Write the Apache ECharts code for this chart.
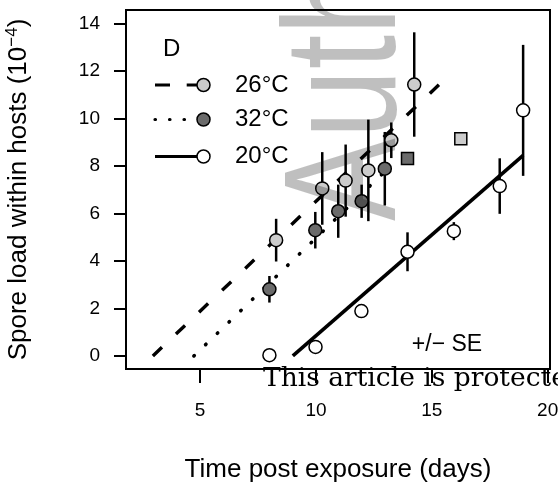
<!DOCTYPE html>
<html>
<head>
<meta charset="utf-8">
<script src="https://cdn.jsdelivr.net/npm/echarts@6/dist/echarts.min.js"></script>
<style>
    html, body { margin: 0; padding: 0; background: #fff; }
    #chart { width: 558px; height: 487px; }
</style>
</head>
<body>
<div id="chart"></div>
<script>
// 26°C (light grey)
let day26 = [8.28, 10.27, 11.28, 12.26, 13.25, 14.24]
let load26 = [4.88, 7.06, 7.39, 7.82, 9.09, 11.44]
let se26 = [0.9, 1.53, 1.52, 2.14, 0.75, 2.2]
// 32°C (dark grey)
let day32 = [7.99, 9.97, 10.96, 11.97, 12.97]
let load32 = [2.81, 5.30, 6.10, 6.52, 7.89]
let se32 = [0.56, 0.77, 1.12, 0.7, 1.55]
// 20°C (white)
let day20 = [7.99, 9.98, 11.96, 13.95, 15.95, 17.93, 18.94]
let load20 = [0.03, 0.38, 1.89, 4.39, 5.26, 7.16, 10.35]
let se20 = [0, 0.1, 0.25, 0.82, 0.38, 1.17, 2.76]
// single square points
let square26 = [16.25, 9.15]
let square32 = [13.95, 8.32]
// fitted lines: start and end
let fit26 = [[2.96, 0], [15.44, 11.55]]
let fit32 = [[4.73, 0], [13.0, 7.8]]
let fit20 = [[9.0, 0], [18.94, 8.45]]

let xTicks = [5, 10, 15, 20]
let yTicks = [0, 2, 4, 6, 8, 10, 12, 14]

const sans = '"Liberation Sans", Arial, sans-serif'
const light = '#cccccc'
const dark = '#6b6b6b'

function points(days, loads) {
    return days.map((d, i) => [d, loads[i]])
}
function bars(days, loads, se) {
    return days.map((d, i) => [d, loads[i] - se[i], loads[i] + se[i]])
}

// vertical +/- SE segments
function errRender(params, api) {
    let lo = api.coord([api.value(0), api.value(1)])
    let hi = api.coord([api.value(0), api.value(2)])
    if (Math.abs(lo[1] - hi[1]) < 1) return null
    return {
        type: 'line',
        shape: { x1: lo[0], y1: lo[1], x2: hi[0], y2: hi[1] },
        style: { stroke: '#000', lineWidth: 2.5 }
    }
}

function errSeries(days, loads, se) {
    return {
        type: 'custom',
        renderItem: errRender,
        data: bars(days, loads, se),
        encode: { x: 0, y: [1, 2] },
        z: 3
    }
}

function fitSeries(data, type, cap, width) {
    return {
        type: 'line',
        data: data,
        symbol: 'none',
        lineStyle: { color: '#000', width: width, type: type, cap: cap },
        z: 2
    }
}

function dotSeries(data, color, symbol, size) {
    return {
        type: 'scatter',
        data: data,
        symbol: symbol,
        symbolSize: size,
        itemStyle: { color: color, borderColor: '#000', borderWidth: 1.5, opacity: 1 },
        z: 4
    }
}

(function () {
    let chart = echarts.init(document.getElementById('chart'))

    let legendRows = [
        { y: 85, label: '26°C', fill: light, dash: [15, 16.7], cap: 'butt' },
        { y: 119.5, label: '32°C', fill: dark, dash: [0.5, 14], cap: 'round' },
        { y: 156.5, label: '20°C', fill: '#fff', dash: null, cap: 'butt' }
    ]
    let legendGraphics = [{
        type: 'text', x: 163, y: 49, z: 10,
        style: { text: 'D', font: '24px ' + sans, fill: '#000', textVerticalAlign: 'middle' }
    }]
    legendRows.forEach(r => {
        legendGraphics.push({
            type: 'line', z: 10,
            shape: { x1: 155, y1: r.y, x2: 203, y2: r.y },
            style: { stroke: '#000', lineWidth: 3.2, lineDash: r.dash, lineCap: r.cap }
        })
        legendGraphics.push({
            type: 'circle', z: 11,
            shape: { cx: 203.5, cy: r.y, r: 6.5 },
            style: { fill: r.fill, stroke: '#000', lineWidth: 1.5 }
        })
        legendGraphics.push({
            type: 'text', x: 235, y: r.y, z: 10,
            style: { text: r.label, font: '24px ' + sans, fill: '#000', textVerticalAlign: 'middle' }
        })
    })

    let option = {
        animation: false,
        backgroundColor: '#fff',
        grid: {
            left: 126, right: 8, top: 10, bottom: 118,
            outerBoundsMode: 'none',
            containLabel: false,
            show: true, borderColor: '#000', borderWidth: 2
        },
        xAxis: {
            type: 'value',
            min: 1.8, max: 20.1,
            axisLine: { show: true, onZero: false, lineStyle: { color: '#000', width: 2 } },
            axisTick: { show: true, length: 14, customValues: xTicks, lineStyle: { color: '#000', width: 2 } },
            axisLabel: { customValues: xTicks, margin: 32, fontSize: 19, color: '#000', fontFamily: sans },
            splitLine: { show: false },
            name: 'Time post exposure (days)',
            nameLocation: 'middle',
            nameGap: 88,
            nameTextStyle: { fontSize: 26, color: '#000', fontFamily: sans }
        },
        yAxis: {
            type: 'value',
            min: -0.55, max: 14.58,
            axisLine: { show: true, onZero: false, lineStyle: { color: '#000', width: 2 } },
            axisTick: { show: true, length: 12, customValues: yTicks, lineStyle: { color: '#000', width: 2 } },
            axisLabel: { customValues: yTicks, margin: 26, fontSize: 19, color: '#000', fontFamily: sans },
            splitLine: { show: false },
            name: 'Spore load within hosts (10{sup|−4})',
            nameLocation: 'middle',
            nameGap: 92,
            nameTextStyle: {
                fontSize: 26, color: '#000', fontFamily: sans,
                rich: { sup: { fontSize: 17, color: '#000', fontFamily: sans, padding: [0, 0, 13, 0] } }
            }
        },
        series: [
            fitSeries(fit26, [12.5, 19.3], 'butt', 3.4),
            fitSeries(fit32, [0.5, 15.8], 'round', 3.6),
            fitSeries(fit20, 'solid', 'butt', 3.6),
            errSeries(day26, load26, se26),
            errSeries(day32, load32, se32),
            errSeries(day20, load20, se20),
            dotSeries(points(day32, load32), dark, 'circle', 13),
            dotSeries(points(day26, load26), light, 'circle', 13),
            dotSeries(points(day20, load20), '#fff', 'circle', 13),
            dotSeries([square26], light, 'rect', 12),
            dotSeries([square32], dark, 'rect', 12)
        ],
        graphic: legendGraphics.concat([
            {
                type: 'text', x: 447, y: 345, z: 10,
                style: { text: '+/− SE', font: '23px ' + sans, fill: '#000', textAlign: 'center', textVerticalAlign: 'middle' }
            },
            {
                type: 'text', x: 351, y: 221, rotation: Math.PI / 2, scaleY: 1.28, z: 100,
                style: { text: 'Author Manuscript', font: '124px ' + sans, fill: 'rgba(0,0,0,0.25)', textAlign: 'left', textVerticalAlign: 'middle' }
            },
            {
                type: 'text', x: 263, y: 379, z: 101,
                style: { text: 'This article is protected by copyright. All rights reserved', font: '26.5px "DejaVu Serif", serif', fill: '#000', textVerticalAlign: 'middle' }
            }
        ])
    }
    chart.setOption(option)
    window.addEventListener('resize', function () {
        chart.resize()
    })
})()
</script>
</body>
</html>
